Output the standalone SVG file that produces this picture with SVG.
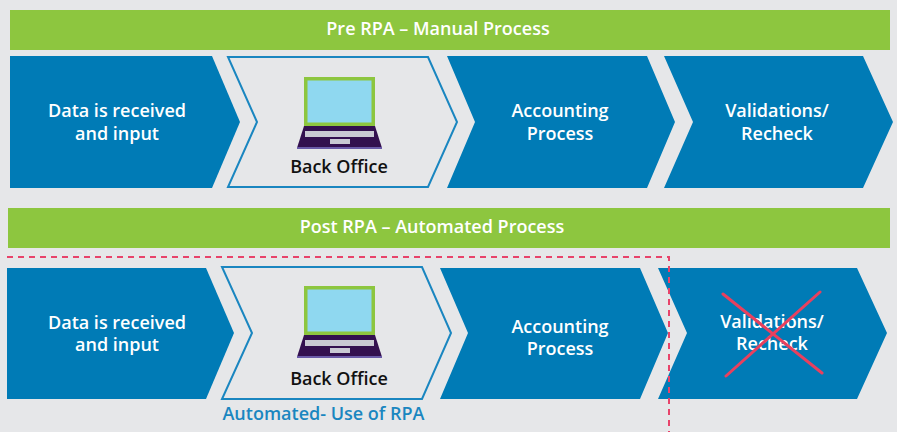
<svg xmlns="http://www.w3.org/2000/svg" width="897" height="432" viewBox="0 0 897 432">
<defs>
<style>
.bg{fill:#e6e7e9}
.bar{fill:#8dc63f}
.blue{fill:#007bb6}
.outl{fill:#e6e7e9;stroke:#1a86c0;stroke-width:2}
.t{font-family:"Open Sans","Liberation Sans",sans-serif;font-weight:600;font-size:18px;text-anchor:middle}
.w{fill:#ffffff}
.k{fill:#111111}
.bt{fill:#1a86c0}
.dash{fill:none;stroke:#e8436a;stroke-width:2;stroke-dasharray:6 5}
.x{stroke:#e8405e;stroke-width:3;stroke-linecap:round}
</style>
<g id="laptop">
<rect x="304" y="77" width="71" height="49" fill="#8dc63f"/>
<rect x="307.5" y="80.5" width="64" height="42" fill="#8fd8f0"/>
<path d="M304 126 L375 126 L382 148 L297 148 Z" fill="#33104f"/>
<rect x="297" y="147" width="85" height="2" fill="#6a5aa8"/>
<rect x="305" y="131" width="69" height="6" fill="#c9c9d3"/>
<rect x="330" y="139" width="20" height="5" fill="#c9c9d3"/>
</g>
</defs>
<rect class="bg" x="0" y="0" width="897" height="432"/>

<g id="pre-bar">
<rect class="bar" x="10" y="10" width="880" height="40"/>
<text class="t w" x="438" y="35">Pre RPA – Manual Process</text>
</g>

<g id="pre-data">
<path class="blue" d="M10 56 L212 56 L240 122 L212 188 L10 188 Z"/>
<text class="t w" x="117" y="117">Data is received</text>
<text class="t w" x="117" y="140">and input</text>
</g>
<g id="pre-backoffice">
<path class="outl" d="M228 57 L428 57 L457 122 L428 187 L228 187 L257 122 Z"/>
<use href="#laptop"/>
<text class="t k" x="339" y="173">Back Office</text>
</g>
<g id="pre-accounting">
<path class="blue" d="M447 56 L647 56 L675 122 L647 188 L447 188 L475 122 Z"/>
<text class="t w" x="560" y="117">Accounting</text>
<text class="t w" x="560" y="140">Process</text>
</g>
<g id="pre-validations">
<path class="blue" d="M664 56 L863 56 L893 122 L863 188 L664 188 L693 122 Z"/>
<text class="t w" x="777" y="117">Validations/</text>
<text class="t w" x="777" y="140">Recheck</text>
</g>

<g id="post-bar">
<rect class="bar" x="8" y="208" width="882" height="40"/>
<text class="t w" x="432" y="233">Post RPA – Automated Process</text>
</g>

<g id="post-data">
<path class="blue" d="M7 268 L206 268 L234 333 L206 399 L7 399 Z"/>
<text class="t w" x="117" y="329">Data is received</text>
<text class="t w" x="117" y="351">and input</text>
</g>
<g id="post-backoffice">
<path class="outl" d="M222 267 L422 267 L451 333 L422 399 L222 399 L252 333 Z"/>
<use href="#laptop" transform="translate(0,209)"/>
<text class="t k" x="339" y="385">Back Office</text>
<text class="t bt" x="323.5" y="420">Automated- Use of RPA</text>
</g>
<g id="post-accounting">
<path class="blue" d="M440 268 L640 268 L668 333 L640 399 L440 399 L468 333 Z"/>
<text class="t w" x="560" y="333">Accounting</text>
<text class="t w" x="560" y="355">Process</text>
</g>
<g id="post-validations">
<path class="blue" d="M658 268 L857 268 L887 333 L857 399 L658 399 L687 333 Z"/>
<text class="t w" x="772" y="328">Validations/</text>
<text class="t w" x="772" y="350">Recheck</text>
<line class="x" x1="723" y1="294" x2="822" y2="373"/>
<line class="x" x1="820" y1="292" x2="726" y2="376"/>
</g>

<g id="connectors">
<path class="dash" d="M7 257 L669 257 L669 432"/>
</g>
</svg>
